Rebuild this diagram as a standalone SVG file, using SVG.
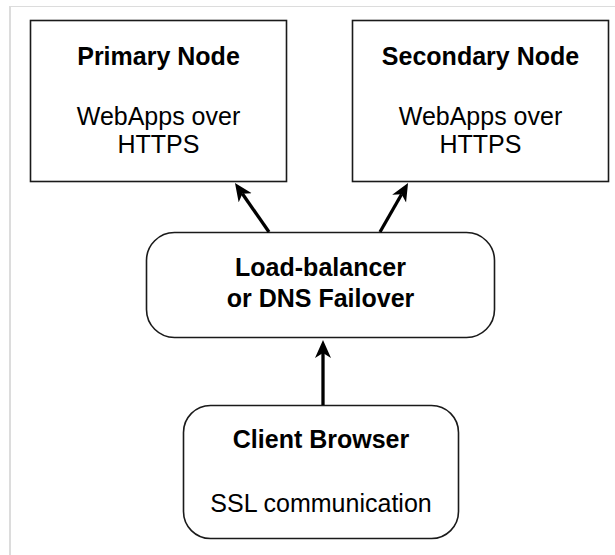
<svg xmlns="http://www.w3.org/2000/svg" width="615" height="555" viewBox="0 0 615 555">
  <style>
    .frame { fill: none; stroke: #dcdcdc; }
    .box { fill: #ffffff; stroke: #1a1a1a; stroke-width: 1.6; }
    .title { font-family: "Liberation Sans", Arial, Helvetica, sans-serif; font-size: 25px; font-weight: bold; fill: #000; text-anchor: middle; }
    .body { font-family: "Liberation Sans", Arial, Helvetica, sans-serif; font-size: 25px; fill: #000; text-anchor: middle; }
    .conn { stroke: #000; stroke-width: 3.3; fill: none; marker-end: url(#arrow); }
  </style>
  <defs>
    <!-- notched block arrowhead; the line stops at the notch -->
    <marker id="arrow" markerUnits="userSpaceOnUse" markerWidth="20" markerHeight="18" refX="5" refY="8" orient="auto">
      <path d="M0,0 L18,8 L0,16 L5,8 z" fill="#000"/>
    </marker>
  </defs>

  <rect width="615" height="555" fill="#ffffff"/>
  <!-- outer page frame -->
  <line class="frame" x1="10" y1="6.5" x2="615" y2="6.5" stroke-width="1.2"/>
  <line class="frame" x1="10" y1="6" x2="10" y2="555" stroke-width="2"/>

  <g id="primary-node">
    <rect class="box" x="30.5" y="20.5" width="256" height="161"/>
    <text class="title" x="158.5" y="65">Primary Node</text>
    <text class="body" x="158.5" y="125">WebApps over</text>
    <text class="body" x="158.5" y="153">HTTPS</text>
  </g>

  <g id="secondary-node">
    <rect class="box" x="352.5" y="20.5" width="256" height="161"/>
    <text class="title" x="480.5" y="65">Secondary Node</text>
    <text class="body" x="480.5" y="125">WebApps over</text>
    <text class="body" x="480.5" y="153">HTTPS</text>
  </g>

  <g id="load-balancer">
    <rect class="box" x="146.5" y="232.5" width="348" height="105" rx="28" ry="28"/>
    <text class="title" x="320.5" y="276">Load-balancer</text>
    <text class="title" x="320.5" y="307">or DNS Failover</text>
  </g>

  <g id="client-browser">
    <rect class="box" x="183.5" y="405.5" width="275" height="133" rx="27" ry="27"/>
    <text class="title" x="321" y="448">Client Browser</text>
    <text class="body" x="321" y="512">SSL communication</text>
  </g>

  <g id="connectors">
    <line class="conn" x1="269" y1="232" x2="242.4" y2="193.7"/>
    <line class="conn" x1="380" y1="232" x2="401.6" y2="194.3"/>
    <line class="conn" x1="323" y1="405" x2="323" y2="353"/>
  </g>
</svg>
